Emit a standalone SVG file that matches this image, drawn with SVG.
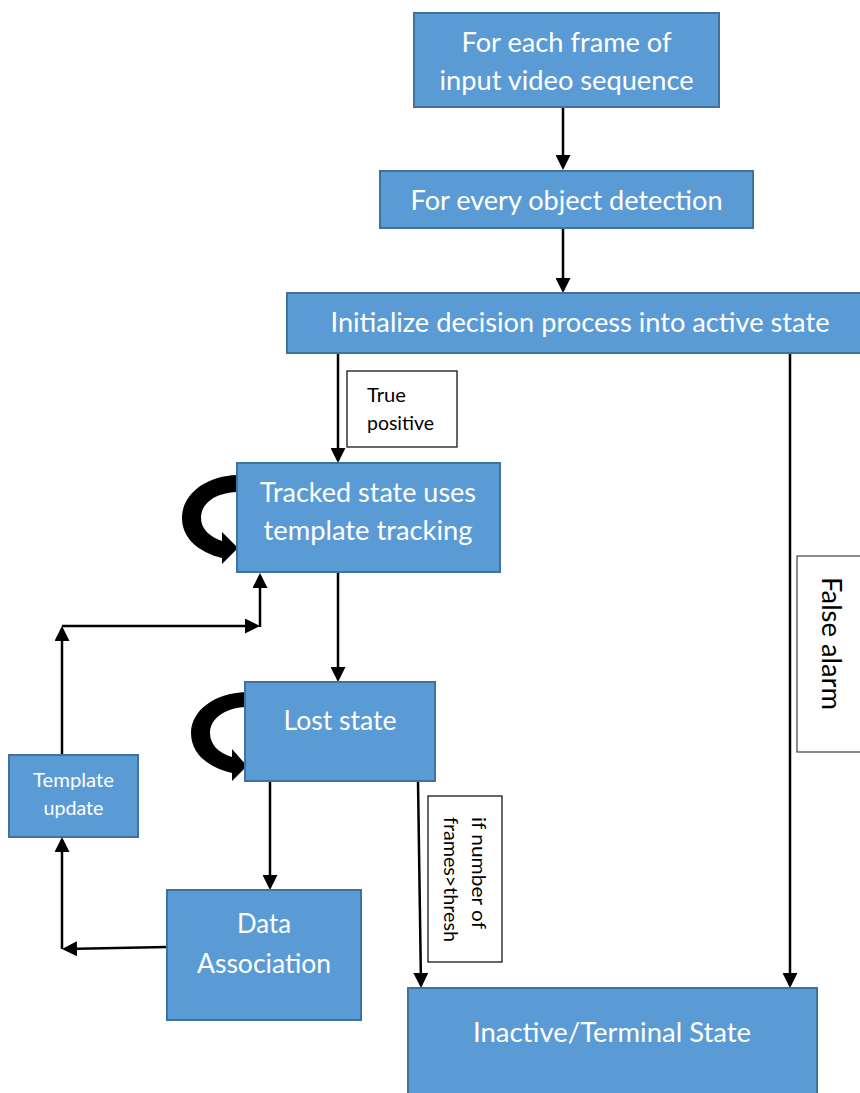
<svg xmlns="http://www.w3.org/2000/svg" width="860" height="1093" viewBox="0 0 860 1093">
  <style>
    .box { fill: #5B9BD5; stroke: #41719C; stroke-width: 2; }
    .lbl { fill: #FFFFFF; stroke: #000000; stroke-width: 1.2; }
    .lbl2 { fill: #FFFFFF; stroke: #404040; stroke-width: 1.2; }
    .t { font-family: Lato, "Open Sans", "Liberation Sans", sans-serif; font-size: 26px; fill: #FFFFFF; text-anchor: middle; }
    .ts { font-family: Lato, "Open Sans", "Liberation Sans", sans-serif; font-size: 19px; fill: #FFFFFF; text-anchor: middle; }
    .tl { font-family: Lato, "Open Sans", "Liberation Sans", sans-serif; font-size: 19px; fill: #000000; }
    .tf { font-family: Lato, "Open Sans", "Liberation Sans", sans-serif; font-size: 26px; fill: #000000; }
    .edge { fill: none; stroke: #000000; stroke-width: 2.5; marker-end: url(#arrow); }
    .loop { fill: #000000; stroke: none; }
  </style>
  <defs>
    <marker id="arrow" viewBox="0 0 15 15" markerUnits="userSpaceOnUse" markerWidth="15" markerHeight="15" refX="12" refY="7.5" orient="auto">
      <path d="M0,0 L15,7.5 L0,15 Z" fill="#000000"/>
    </marker>
  </defs>

  <rect width="860" height="1093" fill="#FFFFFF"/>

  <!-- connectors -->
  <g id="connectors">
    <path class="edge" d="M563,107 L563,167"/>
    <path class="edge" d="M563,228 L563,290"/>
    <path class="edge" d="M338,353 L338,460"/>
    <path class="edge" d="M790,353 L790,985"/>
    <path class="edge" d="M338,572 L338,679"/>
    <path class="edge" d="M270,781 L270,887"/>
    <path class="edge" d="M418,781 L421,985"/>
    <path class="edge" d="M167,947 L65,949"/>
    <path class="edge" d="M62,949 L62,840"/>
    <path class="edge" d="M62,755 L62,629"/>
    <path class="edge" d="M62,626 L257,626"/>
    <path class="edge" d="M260,627 L260,576"/>
    <!-- self loops -->
    <path class="loop" d="M237,475 C206,476 182,494 182,518 C182,538 198,552 222,558 L222,564 L238,548 L222,532 L222,541 C210,537 201,529 201,518 C201,503 215,493 237,492 Z"/>
    <path class="loop" d="M246,692 C214,693 191,711 191,733 C191,753 207,767 232,773 L232,781 L247,766 L232,749 L232,757 C218,753 210,744 210,733 C210,719 224,708 246,707 Z"/>
  </g>

  <!-- edge labels -->
  <g id="label-true-positive">
    <rect class="lbl" x="347" y="371" width="110" height="76"/>
    <text class="tl" x="367" y="402" textLength="39" lengthAdjust="spacingAndGlyphs">True</text>
    <text class="tl" x="367" y="430" textLength="67" lengthAdjust="spacingAndGlyphs">positive</text>
  </g>
  <g id="label-frames">
    <rect class="lbl" x="428" y="796" width="74" height="166"/>
    <text class="tl" transform="translate(472,817) rotate(90)" textLength="112" lengthAdjust="spacingAndGlyphs">if  number of</text>
    <text class="tl" transform="translate(444,817) rotate(90)" textLength="125" lengthAdjust="spacingAndGlyphs">frames&gt;thresh</text>
  </g>
  <g id="label-false-alarm">
    <rect class="lbl2" x="797" y="556" width="70" height="196"/>
    <text class="tf" transform="translate(822,577) rotate(90)" textLength="133" lengthAdjust="spacingAndGlyphs">False alarm</text>
  </g>

  <!-- nodes -->
  <g id="node-frame">
    <rect class="box" x="414" y="13" width="305" height="94"/>
    <text class="t" x="566.5" y="52" textLength="210" lengthAdjust="spacingAndGlyphs">For each frame of</text>
    <text class="t" x="566.5" y="90" textLength="254" lengthAdjust="spacingAndGlyphs">input video sequence</text>
  </g>
  <g id="node-detection">
    <rect class="box" x="380" y="171" width="373" height="57"/>
    <text class="t" x="566.5" y="210" textLength="312" lengthAdjust="spacingAndGlyphs">For every object detection</text>
  </g>
  <g id="node-initialize">
    <rect class="box" x="287" y="293" width="590" height="60"/>
    <text class="t" x="580" y="332" textLength="499" lengthAdjust="spacingAndGlyphs">Initialize decision process into active state</text>
  </g>
  <g id="node-tracked">
    <rect class="box" x="237" y="463" width="263" height="109"/>
    <text class="t" x="368" y="502" textLength="216" lengthAdjust="spacingAndGlyphs">Tracked state uses</text>
    <text class="t" x="368" y="540" textLength="209" lengthAdjust="spacingAndGlyphs">template tracking</text>
  </g>
  <g id="node-lost">
    <rect class="box" x="245" y="682" width="190" height="99"/>
    <text class="t" x="340" y="730" textLength="113" lengthAdjust="spacingAndGlyphs">Lost state</text>
  </g>
  <g id="node-template-update">
    <rect class="box" x="9" y="755" width="129" height="82"/>
    <text class="ts" x="73.5" y="787" textLength="81" lengthAdjust="spacingAndGlyphs">Template</text>
    <text class="ts" x="73.5" y="815" textLength="60" lengthAdjust="spacingAndGlyphs">update</text>
  </g>
  <g id="node-data-association">
    <rect class="box" x="167" y="890" width="194" height="130"/>
    <text class="t" x="264" y="933" textLength="54" lengthAdjust="spacingAndGlyphs">Data</text>
    <text class="t" x="264" y="973" textLength="134" lengthAdjust="spacingAndGlyphs">Association</text>
  </g>
  <g id="node-inactive">
    <rect class="box" x="408" y="988" width="409" height="115"/>
    <text class="t" x="612" y="1042" textLength="278" lengthAdjust="spacingAndGlyphs">Inactive/Terminal State</text>
  </g>
</svg>
